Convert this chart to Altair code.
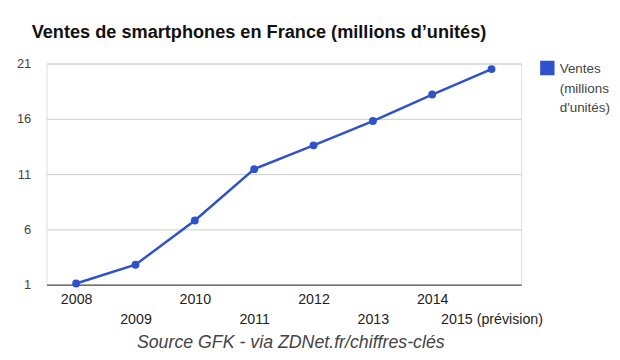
import altair as alt
import pandas as pd

years = ["2008", "2009", "2010", "2011", "2012", "2013", "2014", "2015 (prévision)"]
ventes = [1.1, 2.8, 6.8, 11.45, 13.6, 15.8, 18.2, 20.5]
series = ["Ventes|(millions|d'unités)"] * len(years)

df = pd.DataFrame({"annee": years, "ventes": ventes, "serie": series})

color = "#2f52cc"
SHIFT = -6  # dy applied to all guide labels via style

base = alt.Chart(df).encode(
    x=alt.X(
        "annee:N",
        sort=years,
        scale=alt.Scale(paddingOuter=0.5, paddingInner=0),
        axis=alt.Axis(
            title="Source GFK - via ZDNet.fr/chiffres-clés",
            titleFont="Liberation Sans",
            titleFontSize=18,
            titleFontStyle="italic",
            titleFontWeight="normal",
            titleColor="#444444",
            titlePadding=8,
            titleX=247,
            titleAlign="center",
            labelAngle=0,
            labelFont="Liberation Sans",
            labelFontSize=14.4,
            labelColor="#222222",
            labelPadding=8 - SHIFT,
            labelLineHeight=20,
            labelExpr="indexof(" + str(years).replace("'", '"') + ", datum.value) % 2 == 1 ? ['', datum.value] : datum.value",
            ticks=False,
            grid=False,
            domainColor="#333333",
            domainWidth=1,
        ),
    ),
    y=alt.Y(
        "ventes:Q",
        scale=alt.Scale(domain=[1, 21], nice=False, zero=False),
        axis=alt.Axis(
            title=None,
            values=[1, 6, 11, 16, 21],
            labelFont="Liberation Sans",
            labelFontSize=13,
            labelColor="#444444",
            labelPadding=16,
            labelOffset=-SHIFT,
            ticks=False,
            domain=False,
            gridColor="#cccccc",
        ),
    ),
    color=alt.Color(
        "serie:N",
        scale=alt.Scale(range=[color]),
        legend=alt.Legend(
            title=None,
            orient="none",
            legendX=500,
            legendY=-3,
            symbolType="square",
            symbolSize=170,
            symbolFillColor=color,
            symbolStrokeColor=color,
            symbolOpacity=1,
            labelFont="Liberation Sans",
            labelFontSize=13.6,
            labelColor="#444444",
            labelLimit=200,
            labelBaseline="top",
            labelOffset=5,
            labelExpr="split(datum.label, '|')",
        ),
    ),
)

line = base.mark_line(strokeWidth=2.5, point=alt.OverlayMarkDef(size=64, filled=True, opacity=1))

chart = line.properties(
    width=481,
    height=224,
    title=alt.TitleParams(
        "Ventes de smartphones en France (millions d’unités)",
        anchor="start",
        frame="group",
        font="Liberation Sans",
        fontSize=18.4,
        fontWeight="bold",
        color="#111111",
        dx=-15,
        offset=17,
    ),
    autosize=alt.AutoSizeParams(type="none"),
    padding={"left": 39, "top": 54, "right": 92, "bottom": 70},
).configure_view(stroke=None).configure(
    background="white",
    style={"guide-label": {"lineHeight": 20, "dy": SHIFT}},
)

chart.save("out.html", embed_options={"renderer": "svg", "actions": False})
